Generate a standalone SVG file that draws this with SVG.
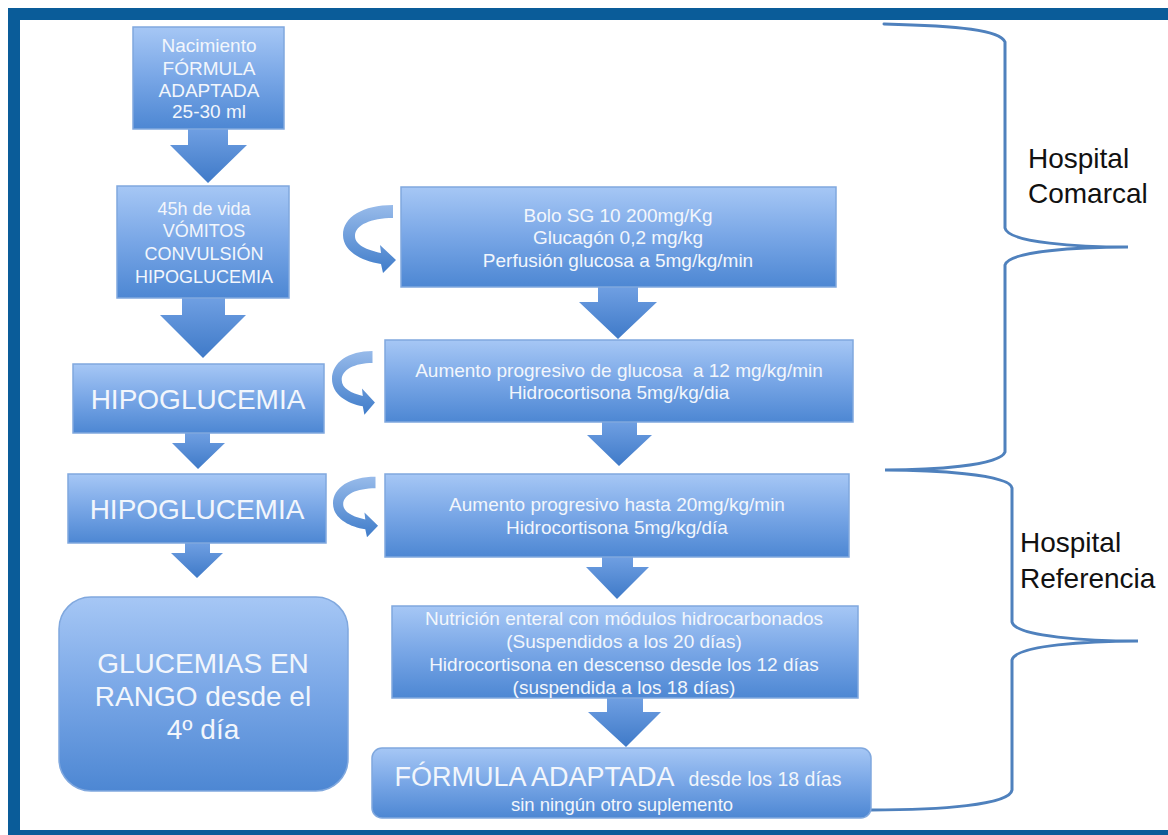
<svg xmlns="http://www.w3.org/2000/svg" width="1168" height="835" viewBox="0 0 1168 835">
<defs>
<linearGradient id="gBox" x1="0" y1="0" x2="0" y2="1">
<stop offset="0" stop-color="#a6c7f5"/>
<stop offset="0.5" stop-color="#78a6e6"/>
<stop offset="1" stop-color="#4d87d3"/>
</linearGradient>
<linearGradient id="gArr" x1="0" y1="0" x2="0" y2="1">
<stop offset="0" stop-color="#6f9fe2"/>
<stop offset="1" stop-color="#3f7ac8"/>
</linearGradient>
<linearGradient id="gCurve" x1="0" y1="0" x2="0" y2="1">
<stop offset="0" stop-color="#98bbea"/>
<stop offset="1" stop-color="#3f7cca"/>
</linearGradient>
<path id="curveArrow" d="M 50 2 C 20 2, 0 14, 0 32 C 0 48, 18 58, 38 61 L 40 70 L 53 57 L 37 42 L 38 50 C 24 47, 12 42, 12 33 C 12 22, 28 15, 50 15 Z"/>
</defs>
<style>
.box{fill:url(#gBox);stroke:#80a8de;stroke-width:1.5}
.arr{fill:url(#gArr)}
.curve{fill:url(#gCurve)}
.t{font-family:"Liberation Sans",Arial,sans-serif;fill:#f2f6fc;text-anchor:middle}
.lbl{font-family:"Liberation Sans",Arial,sans-serif;fill:#111111;font-size:28px}
.brace{fill:none;stroke:#4f81bd;stroke-width:3;stroke-linecap:round}
.frame{fill:#0a5c99}
</style>
<rect x="0" y="0" width="1168" height="835" fill="#ffffff"/>
<rect class="frame" x="8" y="8" width="1160" height="12"/>
<rect class="frame" x="8" y="8" width="12" height="827"/>
<rect class="frame" x="8" y="830" width="1160" height="5"/>

<g id="connectors">
<path class="brace" d="M 884 24 C 960 26, 1000 30, 1005 42 L 1005 228 C 1008 243, 1080 247, 1128 247 C 1080 247, 1008 251, 1005 265 L 1005 452 C 1000 466, 930 470, 885 470 C 930 470, 1010 474, 1012 488 L 1012 622 C 1015 637, 1090 641, 1138 641 C 1090 641, 1015 645, 1012 660 L 1012 790 C 1010 805, 940 810, 871 810"/>
<polygon class="arr" points="188,129 228,129 228,145 247,145 208,183 170,145 188,145"/>
<polygon class="arr" points="182,298 225,298 225,315 246,315 203,358 160,315 182,315"/>
<polygon class="arr" points="185,433 210,433 210,443 225,443 198,469 172,443 185,443"/>
<polygon class="arr" points="185,543 210,543 210,553 223,553 197,578 171,553 185,553"/>
<polygon class="arr" points="598,287 638,287 638,302 657,302 618,339 579,302 598,302"/>
<polygon class="arr" points="602,422 637,422 637,435 652,435 619,466 587,435 602,435"/>
<polygon class="arr" points="602,557 633,557 633,567 649,567 617,599 586,567 602,567"/>
<polygon class="arr" points="607,698 643,698 643,712 661,712 626,747 588,712 607,712"/>
<use href="#curveArrow" class="curve" transform="translate(343,203)"/>
<use href="#curveArrow" class="curve" transform="translate(332,349) scale(0.81,0.94)"/>
<use href="#curveArrow" class="curve" transform="translate(333,475) scale(0.85,0.89)"/>
</g>

<g id="n-nacimiento">
<rect class="box" x="133" y="27" width="151" height="102"/>
<text class="t" font-size="19"><tspan x="209" y="52">Nacimiento</tspan><tspan x="209" y="75">FÓRMULA</tspan><tspan x="209" y="97">ADAPTADA</tspan><tspan x="209" y="118">25-30 ml</tspan></text>
</g>
<g id="n-45h">
<rect class="box" x="117" y="186" width="172" height="112"/>
<text class="t" font-size="18"><tspan x="204" y="215">45h de vida</tspan><tspan x="204" y="237">VÓMITOS</tspan><tspan x="204" y="260">CONVULSIÓN</tspan><tspan x="204" y="283">HIPOGLUCEMIA</tspan></text>
</g>
<g id="n-hipo1">
<rect class="box" x="73" y="364" width="251" height="69"/>
<text class="t" font-size="28" x="198" y="409">HIPOGLUCEMIA</text>
</g>
<g id="n-hipo2">
<rect class="box" x="68" y="474" width="258" height="69"/>
<text class="t" font-size="28" x="197" y="519">HIPOGLUCEMIA</text>
</g>
<g id="n-glucemias">
<rect class="box" x="59" y="597" width="289" height="194" rx="32" ry="32"/>
<text class="t" font-size="28"><tspan x="203" y="673">GLUCEMIAS EN</tspan><tspan x="203" y="706">RANGO desde el</tspan><tspan x="203" y="739">4º día</tspan></text>
</g>
<g id="n-bolo">
<rect class="box" x="401" y="187" width="435" height="100"/>
<text class="t" font-size="19"><tspan x="618" y="222">Bolo SG 10 200mg/Kg</tspan><tspan x="618" y="244">Glucagón 0,2 mg/kg</tspan><tspan x="618" y="267">Perfusión glucosa a 5mg/kg/min</tspan></text>
</g>
<g id="n-aumento1">
<rect class="box" x="385" y="340" width="468" height="82"/>
<text class="t" font-size="19" xml:space="preserve"><tspan x="619" y="377">Aumento progresivo de glucosa  a 12 mg/kg/min</tspan><tspan x="619" y="399">Hidrocortisona 5mg/kg/dia</tspan></text>
</g>
<g id="n-aumento2">
<rect class="box" x="385" y="474" width="464" height="83"/>
<text class="t" font-size="19"><tspan x="617" y="511">Aumento progresivo hasta 20mg/kg/min</tspan><tspan x="617" y="534">Hidrocortisona 5mg/kg/día</tspan></text>
</g>
<g id="n-nutricion">
<rect class="box" x="392" y="606" width="466" height="92"/>
<text class="t" font-size="19"><tspan x="624" y="625">Nutrición enteral con módulos hidrocarbonados</tspan><tspan x="624" y="648">(Suspendidos a los 20 días)</tspan><tspan x="624" y="671">Hidrocortisona en descenso desde los 12 días</tspan><tspan x="624" y="694">(suspendida a los 18 días)</tspan></text>
</g>
<g id="n-formula">
<rect class="box" x="372" y="748" width="499" height="70" rx="10" ry="10"/>
<text class="t" x="618" y="786"><tspan font-size="27">FÓRMULA ADAPTADA</tspan><tspan font-size="19.5" dx="14">desde los 18 días</tspan></text>
<text class="t" font-size="18.5" x="622" y="811">sin ningún otro suplemento</text>
</g>
<g id="label-comarcal">
<text class="lbl"><tspan x="1028" y="168">Hospital</tspan><tspan x="1028" y="203">Comarcal</tspan></text>
</g>
<g id="label-referencia">
<text class="lbl"><tspan x="1020" y="552">Hospital</tspan><tspan x="1020" y="588">Referencia</tspan></text>
</g>
</svg>
